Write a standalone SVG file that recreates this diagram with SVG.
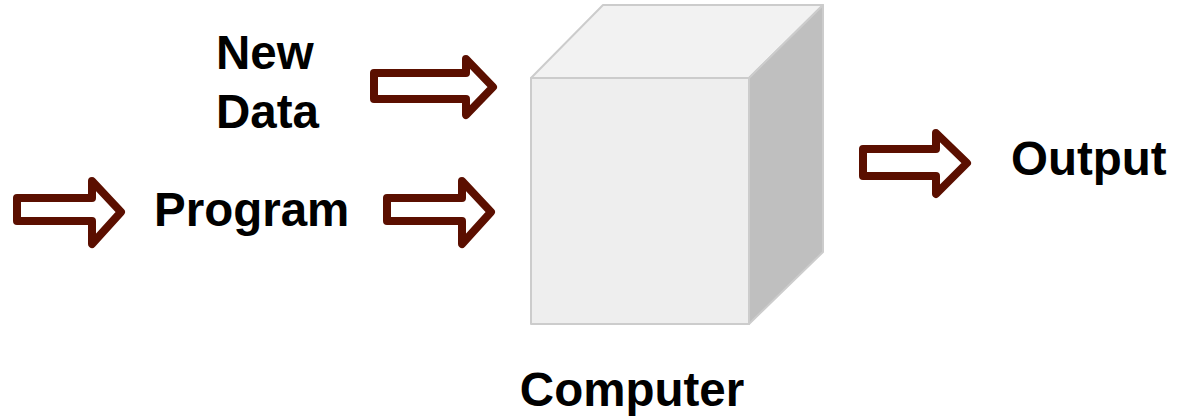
<svg xmlns="http://www.w3.org/2000/svg" width="1178" height="418" viewBox="0 0 1178 418">
<style>
.lbl{font-family:"Liberation Sans",Arial,sans-serif;font-weight:bold;font-size:47.5px;fill:#000}
.arr{fill:#fff;stroke:#5b0f00;stroke-width:8;stroke-linejoin:round}
.cube{stroke:#cccccc;stroke-width:2;stroke-linejoin:round}
</style>
<rect width="1178" height="418" fill="#fff"/>
<g id="computer">
<polygon class="cube" points="531,78 603,5 823,5 749,78" fill="#f2f2f2"/>
<polygon class="cube" points="749,78 823,5 823,252 749,324" fill="#bfbfbf"/>
<rect class="cube" x="531" y="78" width="218" height="246" fill="#eeeeee"/>
<text class="lbl" x="632" y="406" text-anchor="middle">Computer</text>
</g>
<g id="newdata">
<text class="lbl" x="216" y="69">New</text>
<text class="lbl" x="216" y="128">Data</text>
</g>
<g id="program">
<text class="lbl" x="154" y="226">Program</text>
</g>
<g id="output">
<text class="lbl" x="1011" y="175">Output</text>
</g>
<g id="connectors">
<path class="arr" d="M374,73 L466,73 L466,59 L493,87 L466,115 L466,99 L374,99 Z"/>
<path class="arr" d="M17,198 L92,198 L92,181 L121,212 L92,244 L92,221 L17,221 Z"/>
<path class="arr" d="M387,198 L462,198 L462,181 L491,212 L462,244 L462,221 L387,221 Z"/>
<path class="arr" d="M863,149 L936,149 L936,133 L967,163 L936,194 L936,176 L863,176 Z"/>
</g>
</svg>
